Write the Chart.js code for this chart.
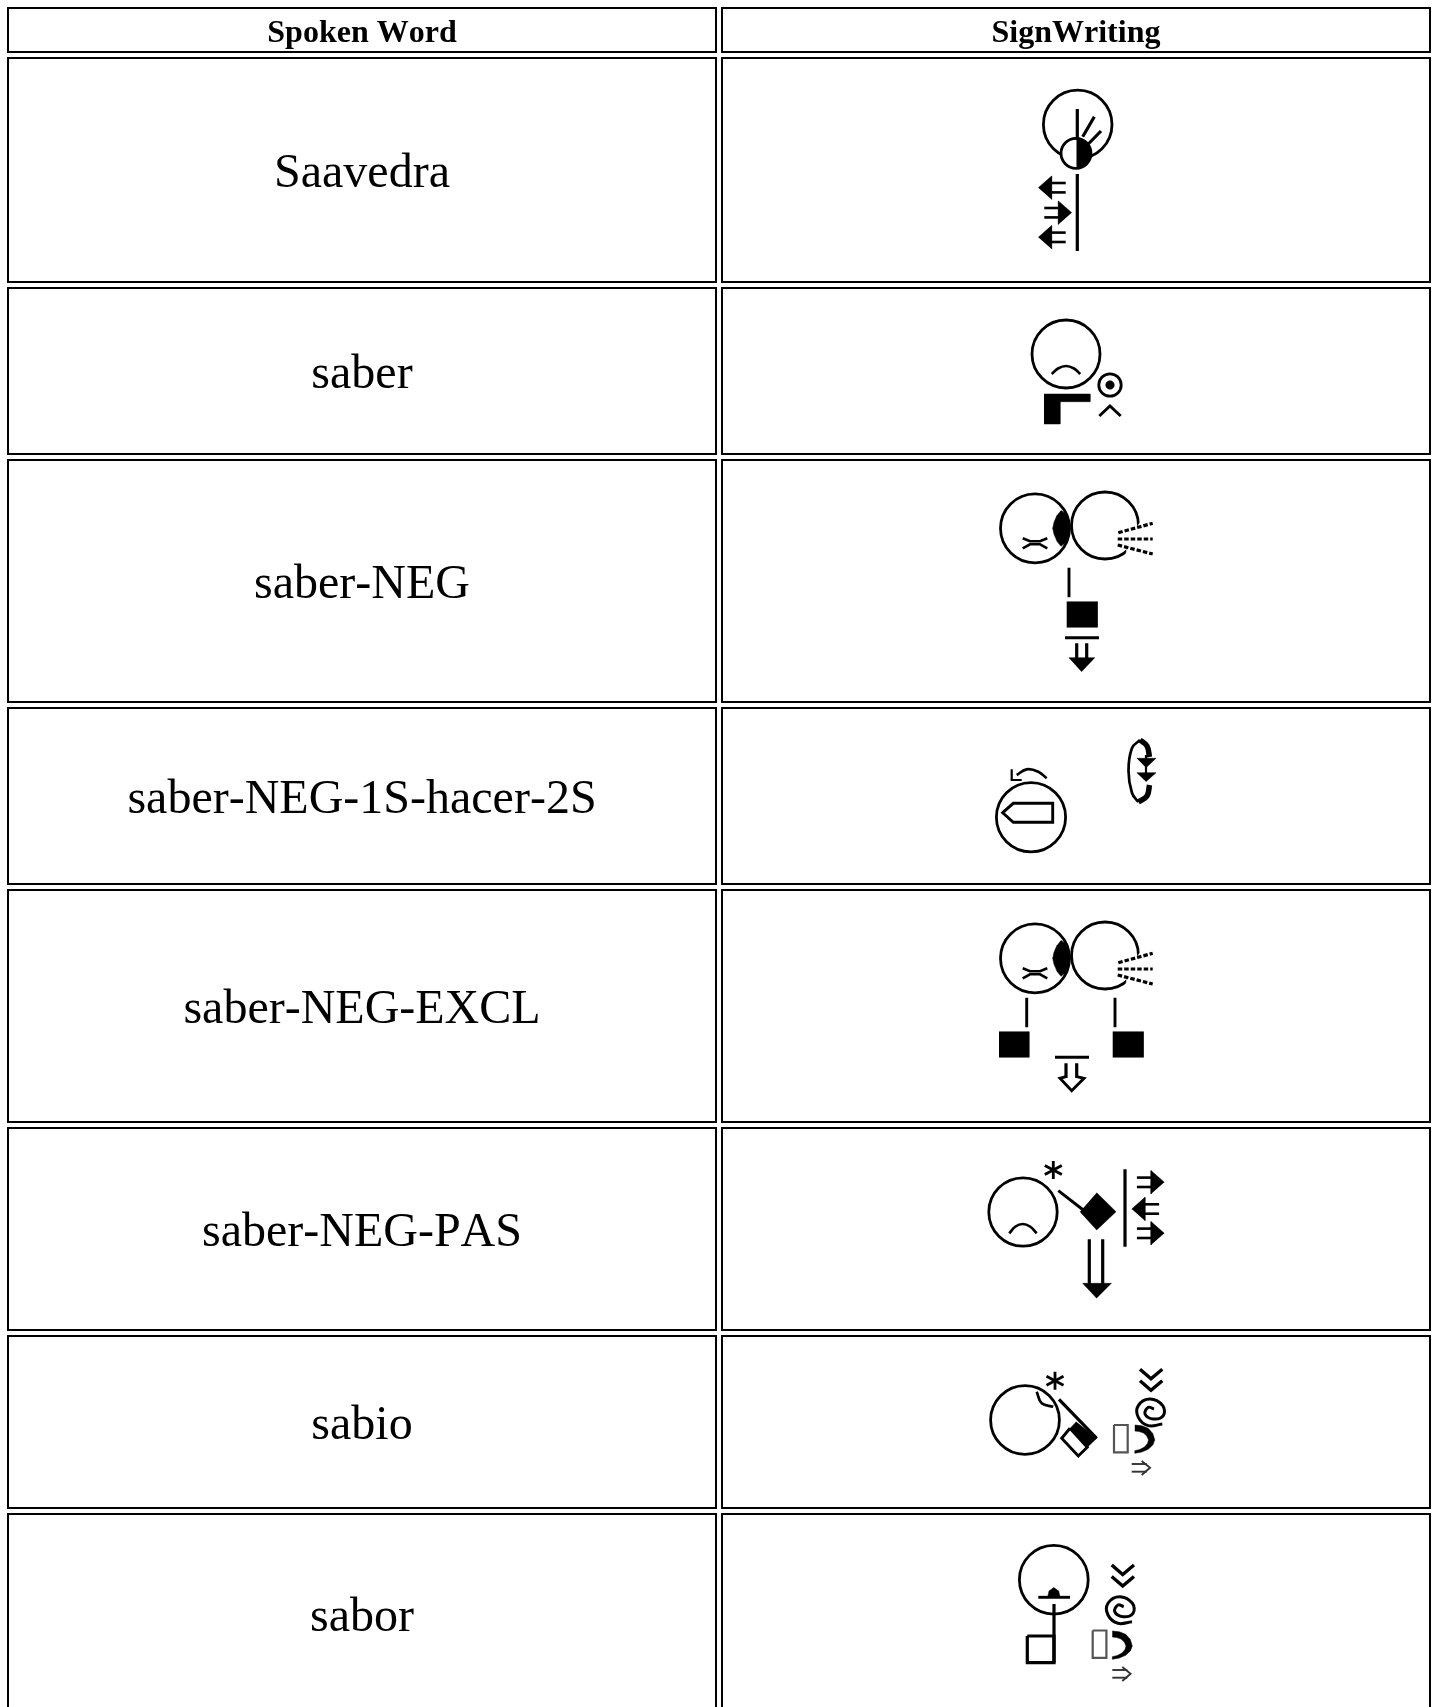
<!DOCTYPE html>
<html>
<head>
<meta charset="utf-8">
<title>SignWriting</title>
<style>
html, body { margin: 0; padding: 0; background: #fff; }
canvas { display: block; }
</style>
<script src="https://cdn.jsdelivr.net/npm/chart.js@4/dist/chart.umd.min.js"></script>
</head>
<body>
<canvas id="table" width="1435" height="1707"></canvas>
<script>
// Table content
const HEADERS = ['Spoken Word', 'SignWriting'];
const SPOKEN_WORDS = ['Saavedra', 'saber', 'saber-NEG', 'saber-NEG-1S-hacer-2S', 'saber-NEG-EXCL', 'saber-NEG-PAS', 'sabio', 'sabor'];

// Cell edges, header row first (the last row runs off the page)
const COL_LEFT = [8, 722];
const COL_RIGHT = [716, 1430];
const ROW_TOP = [8, 58, 288, 460, 708, 890, 1128, 1336, 1514];
const ROW_BOTTOM = [52, 282, 454, 702, 884, 1122, 1330, 1508, 1713];

// Repeated symbols, relative to their own anchor
const ARROW_HEAD = [[0, 0], [13.3, -11.7], [13.3, 11.7]];
const ARROW_STEMS = [[[13, -4.7], [27.4, -4.7]], [[13, 4.7], [27.4, 4.7]]];
const ASTERISK = [[[0, -9], [0, 9]], [[-8.5, -4.5], [8.5, 4.5]], [[-8.5, 4.5], [8.5, -4.5]]];
const WIND = [[[13.3, 7.2], [47.7, -2.2]], [[12.7, 13.5], [47.7, 13.5]], [[12.7, 19.5], [47.7, 28.5]]];
const WIND_GAP = [[34.3, -2.2], [55, -5.5], [55, 34.5], [21, 28.5], [23.3, 12.8]];
const CRESCENT = [[26, -18], [31, -14], [33.5, -8], [35, 0], [33.5, 8], [31, 14], [26, 18], [22, 13], [19, 6], [17.7, 0], [19, -6], [22, -13]];
const CROSS_EYES = [[[-12.3, 10], [-5, 13], [5, 13], [12.3, 10]], [[-12.3, 20], [-5, 16], [5, 16], [12.3, 20]]];
const CHEVRONS = [[[0, 0], [11, 9.5], [22.3, 0]], [[0, 11.5], [11, 21], [22.3, 11.5]]];
const SPIRAL = [[24.3, 25], [10.3, 26.6], [0.3, 18.3], [0.3, 6.6], [12, 0], [24.7, 6.6], [25.3, 16.6], [15.3, 20], [7, 15], [10.3, 8.3], [16, 10]];
const MOUTH_BOX = [[0, 0], [13.7, 0], [13.7, 27.3], [0, 27.3], [0, 0]];
const MOUTH_D = [[0, 0], [7, 0.8], [13.4, 3.3], [18, 8.5], [20, 15], [18, 20], [13.4, 24.3], [7, 27], [0, 28.3], [0, 25.7], [5, 24.5], [9.7, 22], [12.7, 18.5], [13.7, 15], [12, 11], [8.7, 8], [4.5, 6.6], [0, 6]];
const SMALL_ARROW = [[[0, 0], [15, 0]], [[0, 7.7], [15, 7.7]], [[10, -3], [18.3, 3.7], [10, 11]]];

// Anchors of the repeated symbols: x, y, direction
const ARROWS = [[1038.3, 187.7, 1], [1071.7, 212.7, -1], [1038.3, 237.3, 1], [1164.3, 1182.3, -1], [1131.7, 1209, 1], [1164.3, 1233.3, -1]];
const ASTERISKS = [[1053.3, 1170], [1055, 1380.7]];
const FACE_PAIRS = [[1035, 528.3, 1105, 525.5], [1035, 958.3, 1105, 955.5]];
const MOVEMENT_CHEVRONS = [[1140, 1369.3], [1111.7, 1565]];
const SPIRALS = [[1138, 1399], [1107.7, 1596.7]];
const MOUTH_BOXES = [[1114, 1425], [1092.7, 1630.5]];
const MOUTH_DS = [[1134.8, 1425], [1112.3, 1631]];
const SMALL_ARROWS = [[1131.7, 1464], [1112.3, 1670]];

// Circles: x, y, radius
const RINGS = [
    [1077.7, 124.5, 34.3], [1076, 153.3, 15],
    [1066, 354, 34], [1110, 385, 11.2],
    [1035, 528.3, 34.5], [1105, 525.5, 33.5],
    [1031, 817.3, 34.6],
    [1035, 958.3, 34.5], [1105, 955.5, 33.5],
    [1023, 1212, 34.2],
    [1025, 1420, 34.4],
    [1053.8, 1579.7, 34.4]
];
const DOTS = [[1110, 385, 4.3]];

// Solid shapes
const SOLIDS = [
    // half filled fist
    [[1076.5, 138.5], [1082, 139.6], [1087, 143], [1090.3, 148], [1091.3, 153.3], [1090.3, 158.6], [1087, 163.6], [1082, 167], [1076.5, 168.2]],
    // bent hand
    [[1044, 394], [1090, 394], [1090, 401.7], [1060, 401.7], [1060, 424], [1044, 424]],
    // fists
    [[1066.7, 601.7], [1097.3, 601.7], [1097.3, 627.3], [1066.7, 627.3]],
    [[999, 1031.7], [1029, 1031.7], [1029, 1057.3], [999, 1057.3]],
    [[1112.7, 1031.7], [1143.3, 1031.7], [1143.3, 1057.3], [1112.7, 1057.3]],
    // down arrow heads
    [[1081.7, 671.7], [1069, 657.7], [1095, 657.7]],
    [[1096.7, 1298.3], [1082.7, 1283.3], [1111.7, 1283.3]],
    // wheel arrows
    [[1136.7, 758.3], [1156, 758.3], [1146, 767.7]],
    [[1136.7, 772.7], [1156, 772.7], [1146, 781.7]],
    // flat hand
    [[1096.7, 1192.7], [1116, 1211.7], [1096.7, 1230], [1080, 1211.7]],
    [[1076, 1421.7], [1096.7, 1438.3], [1087.3, 1447.3], [1070, 1428.3]],
    // tongue
    [[1047.7, 1597], [1049, 1591], [1053.8, 1587.5], [1058.7, 1591], [1060, 1597]]
];

// Strokes sorted by weight
const LINES_THIN = [
    [[1011.7, 769.3], [1011.7, 780], [1021.7, 780]],
    [[1146, 755], [1146, 775]]
];
const LINES_MEDIUM = [
    [[1099.3, 416], [1110, 406], [1120.7, 416]],
    [[1069, 567.7], [1069, 597.3]],
    [[1026.7, 997.7], [1026.7, 1027.3]], [[1115, 997.7], [1115, 1027.3]],
    [[1066, 1076.7], [1060, 1078.3], [1071.7, 1090.7], [1084, 1078.3], [1076.7, 1076.7]],
    [[1058.3, 1190.7], [1083.3, 1210]],
    [[1002.7, 812.7], [1013.3, 803.3], [1052.7, 803.3], [1052.7, 822.3], [1013.3, 822.3], [1002.7, 812.7], [1013.3, 803.3]],
    [[1070, 1428.3], [1087.3, 1447.3], [1078.3, 1456], [1061.7, 1438.3], [1070, 1428.3]],
    [[1065, 637.7], [1099, 637.7]], [[1055, 1057.3], [1089, 1057.3]],
    [[1038.3, 1597.3], [1070, 1597.3]]
];
const LINES_THICK = [
    [[1077.3, 109], [1077.3, 140]], [[1094.3, 116.7], [1082.7, 136.7]], [[1101, 131], [1087.3, 145]],
    [[1077.3, 174], [1077.3, 251]],
    [[1125, 1169.3], [1125, 1246.7]],
    [[1076.7, 643.3], [1076.7, 660]], [[1086.7, 643.3], [1086.7, 660]],
    [[1066, 1063.3], [1066, 1078]], [[1076.7, 1063.3], [1076.7, 1078]],
    [[1089.3, 1239.3], [1089.3, 1284]], [[1102.7, 1239.3], [1102.7, 1284]],
    [[1059, 1399.3], [1096.7, 1438.3]],
    [[1054, 1604], [1054, 1662.7]],
    [[1027.3, 1636], [1054, 1636], [1054, 1662.7], [1027.3, 1662.7], [1027.3, 1636]]
];

// Curved strokes
const CURVES = [
    [[1051.7, 374], [1058, 368.5], [1066, 366], [1074, 368.5], [1080.3, 374]],
    [[1046.7, 778.3], [1038.3, 771.7], [1026.7, 769.3], [1016.7, 775]],
    [[1140, 740], [1132, 748], [1128.5, 770.7], [1132, 793], [1138.3, 802]],
    [[1009.3, 1233.3], [1015.5, 1226.5], [1022.7, 1224], [1030, 1226.5], [1036.7, 1233.3]],
    [[1036.7, 1391.7], [1041.7, 1403.3], [1053.3, 1406.7]]
];
const CURVES_HEAVY = [
    [[1140, 740], [1147, 746], [1149.5, 757]],
    [[1149.5, 785], [1147, 796], [1138.3, 802]]
];

const shift = (points, ox, oy, sx = 1) => points.map(([x, y]) => [ox + x * sx, oy + y]);
const toXY = points => points.map(([x, y]) => ({ x, y }));

const lineSet = (points, width, extra = {}) => ({
    data: toXY(points),
    showLine: true,
    borderColor: '#000',
    borderWidth: width,
    borderJoinStyle: 'miter',
    pointRadius: 0,
    fill: false,
    ...extra
});

const solidSet = (points, color = '#000') => lineSet(points, 0.5, {
    borderColor: color,
    backgroundColor: color,
    fill: 'shape'
});

const ringSet = ([x, y, r], fillColor = '#fff', width = 2.8) => ({
    data: [{ x, y }],
    pointStyle: 'circle',
    pointRadius: r,
    pointBackgroundColor: fillColor,
    pointBorderColor: '#000',
    pointBorderWidth: width
});

const datasets = [];

// Cells
ROW_TOP.forEach((top, r) => {
    COL_LEFT.forEach((left, c) => {
        const right = COL_RIGHT[c];
        const bottom = ROW_BOTTOM[r];
        datasets.push(lineSet([[left, top], [right, top], [right, bottom], [left, bottom], [left, top], [right, top]], 2));
    });
});

// Signs
RINGS.forEach(ring => datasets.push(ringSet(ring)));
DOTS.forEach(dot => datasets.push(ringSet(dot, '#000', 0.5)));

FACE_PAIRS.forEach(([lx, ly, rx, ry]) => {
    datasets.push(solidSet(shift(WIND_GAP, rx, ry), '#fff'));
    datasets.push(solidSet(shift(CRESCENT, lx, ly)));
    CROSS_EYES.forEach(eye => datasets.push(lineSet(shift(eye, lx, ly), 2.6)));
    WIND.forEach(w => datasets.push(lineSet(shift(w, rx, ry), 3.2, { borderDash: [4.5, 2] })));
});

SOLIDS.forEach(shape => datasets.push(solidSet(shape)));
LINES_THIN.forEach(line => datasets.push(lineSet(line, 2.2)));
LINES_MEDIUM.forEach(line => datasets.push(lineSet(line, 2.9)));
LINES_THICK.forEach(line => datasets.push(lineSet(line, 3.2)));
CURVES.forEach(curve => datasets.push(lineSet(curve, 2.7, { tension: 0.4 })));
CURVES_HEAVY.forEach(curve => datasets.push(lineSet(curve, 5.5, { tension: 0.4 })));

ARROWS.forEach(([x, y, dir]) => {
    datasets.push(solidSet(shift(ARROW_HEAD, x, y, dir)));
    ARROW_STEMS.forEach(stem => datasets.push(lineSet(shift(stem, x, y, dir), 2.6)));
});
ASTERISKS.forEach(([x, y]) => {
    ASTERISK.forEach(arm => datasets.push(lineSet(shift(arm, x, y), 2.8)));
});
MOVEMENT_CHEVRONS.forEach(([x, y]) => {
    CHEVRONS.forEach(c => datasets.push(lineSet(shift(c, x, y), 3.4)));
});
SPIRALS.forEach(([x, y]) => datasets.push(lineSet(shift(SPIRAL, x, y), 3, { tension: 0.4 })));
MOUTH_BOXES.forEach(([x, y]) => datasets.push(lineSet(shift(MOUTH_BOX, x, y), 2.2, { borderColor: '#555' })));
MOUTH_DS.forEach(([x, y]) => datasets.push(solidSet(shift(MOUTH_D, x, y))));
SMALL_ARROWS.forEach(([x, y]) => {
    SMALL_ARROW.forEach(part => datasets.push(lineSet(shift(part, x, y), 1.9, { borderColor: '#333' })));
});

// Chart.js paints the first dataset last
datasets.reverse();

// Cell text goes through the same scales as the marks
const cellText = {
    id: 'cellText',
    afterDatasetsDraw(chart) {
        const { ctx, scales: { x, y } } = chart;
        const draw = (text, cx, cy, font, size) => {
            ctx.font = font;
            ctx.fillText(text, x.getPixelForValue(cx), y.getPixelForValue(cy + size * 0.3375 + 1));
        };
        ctx.save();
        ctx.fillStyle = '#000';
        ctx.textAlign = 'center';
        ctx.textBaseline = 'alphabetic';
        ctx.fontKerning = 'none';
        HEADERS.forEach((text, c) => {
            draw(text, (COL_LEFT[c] + COL_RIGHT[c]) / 2, (ROW_TOP[0] + ROW_BOTTOM[0]) / 2, 'bold 32px "Liberation Serif"', 32);
        });
        SPOKEN_WORDS.forEach((text, r) => {
            draw(text, (COL_LEFT[0] + COL_RIGHT[0]) / 2, (ROW_TOP[r + 1] + ROW_BOTTOM[r + 1]) / 2, '48px "Liberation Serif"', 48);
        });
        ctx.restore();
    }
};

new Chart(document.getElementById('table'), {
    type: 'scatter',
    data: { datasets },
    options: {
        responsive: false,
        animation: false,
        events: [],
        layout: { padding: 0, autoPadding: false },
        scales: {
            x: { type: 'linear', display: false, min: 0, max: 1435 },
            y: { type: 'linear', display: false, min: 0, max: 1707, reverse: true }
        },
        plugins: { legend: { display: false }, tooltip: { enabled: false } }
    },
    plugins: [cellText]
});
</script>
</body>
</html>
